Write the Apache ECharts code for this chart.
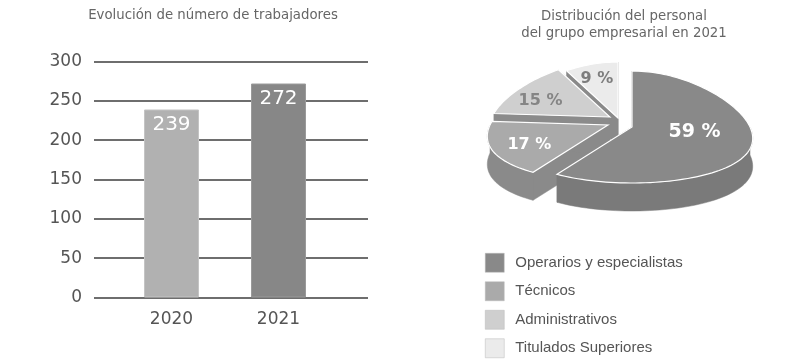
<!DOCTYPE html>
<html><head><meta charset="utf-8">
<script src="https://cdn.jsdelivr.net/npm/echarts@6/dist/echarts.min.js"></script>
<style>html,body{margin:0;padding:0;background:#fff}#c{width:800px;height:362px}</style>
</head><body><div id="c"></div>
<script>
// ---- data ----
const years = ['2020', '2021'];
const workers = [239, 272];
const yMin = 0, yMax = 300, yStep = 50;
const pieNames = ['Operarios y especialistas', 'Técnicos', 'Administrativos', 'Titulados Superiores'];
const pieShares = [59, 17, 15, 9];

// ---- styles ----
const barColors = ['#b1b1b1', '#878787'];
const barBorders = ['#c4c4c4', '#9a9a9a'];
const topColors = ['#898989', '#aaaaaa', '#cfcfcf', '#ebebeb'];
const sideColors = ['#7a7a7a', '#8a8a8a', '#8a8a8a', '#8d8d8d'];
const cutColors = ['#7e7e7e', '#8a8a8a', '#8b8b8b', '#8a8a8a'];
const labelColors = ['#ffffff', '#ffffff', '#858585', '#7d7d7d'];
const labelSizes = [19, 16, 16, 16];
const labelR = [0.52, 0.68, 0.77, 0.81];
const labelDy = [-3, 2.5, 6, 4.5];
const explodeOffsets = [[10, 3], [-14, 1], [-12, -7], [-4, -6]];
const drawZ = [5, 4, 3, 2];
const PIE = { cx: 622, cy: 124, rx: 118, ry: 56, depth: 28, persp: 0.22 };

const total = pieShares.reduce((a, b) => a + b, 0);
const starts = [];
let acc = 0;
pieShares.forEach(v => { starts.push(acc / total * 360); acc += v; });

function pt(c, th, r) {
  r = r === undefined ? 1 : r;
  const a = th * Math.PI / 180;
  const f = 1 - PIE.persp * Math.cos(a);
  return [c[0] + PIE.rx * f * r * Math.sin(a), c[1] - PIE.ry * r * Math.cos(a)];
}

function renderSlice(i) {
  return function (params, api) {
    const v = api.value(0);
    const s = starts[i], e = s + v / total * 360, m = (s + e) / 2;
    const c = [PIE.cx + explodeOffsets[i][0], PIE.cy + explodeOffsets[i][1]];
    const D = PIE.depth;
    const down = p => [p[0], p[1] + D];
    const arc = [];
    const n = Math.max(2, Math.ceil((e - s) / 2));
    for (let k = 0; k <= n; k++) arc.push(pt(c, s + (e - s) * k / n));
    const children = [];
    [arc[0], arc[arc.length - 1]].forEach(p => {
      children.push({ type: 'polygon', shape: { points: [c, p, down(p), down(c)] },
        style: { fill: cutColors[i], stroke: cutColors[i], lineWidth: 0.5 } });
    });
    const fs = Math.max(s, 90), fe = Math.min(e, 270);
    if (fe > fs) {
      const fr = [];
      const nn = Math.max(2, Math.ceil((fe - fs) / 2));
      for (let k = 0; k <= nn; k++) fr.push(pt(c, fs + (fe - fs) * k / nn));
      const poly = fr.concat(fr.slice().reverse().map(down));
      children.push({ type: 'polygon', shape: { points: poly },
        style: { fill: sideColors[i], stroke: sideColors[i], lineWidth: 0.5 } });
    }
    children.push({ type: 'polygon', shape: { points: [c].concat(arc) },
      style: { fill: topColors[i], stroke: '#ffffff', lineWidth: 1.2 } });
    const lp = pt(c, m, labelR[i]);
    children.push({ type: 'text', x: lp[0], y: lp[1] + labelDy[i],
      style: { text: v + ' %', fill: labelColors[i], fontFamily: 'DejaVu Sans', fontWeight: 'bold',
        fontSize: labelSizes[i], align: 'center', verticalAlign: 'middle' } });
    return { type: 'group', children: children };
  };
}

const chart = echarts.init(document.getElementById('c'), null, { renderer: 'canvas' });
const titleStyle = { fontFamily: 'DejaVu Sans', fontSize: 13.3, fontWeight: 'normal', color: '#666666', lineHeight: 17 };
chart.setOption({
  animation: false,
  backgroundColor: '#ffffff',
  title: [
    { text: 'Evolución de número de trabajadores', left: 213, top: 7, textAlign: 'center', padding: 0, textStyle: titleStyle },
    { text: 'Distribución del personal\ndel grupo empresarial en 2021', left: 624, top: 8, textAlign: 'center', padding: 0, textStyle: titleStyle }
  ],
  legend: {
    data: pieNames, orient: 'vertical', left: 485, top: 253, itemWidth: 19, itemHeight: 19, itemGap: 9,
    icon: 'rect', selectedMode: false, padding: 0,
    itemStyle: { borderColor: '#b8b8b8', borderWidth: 0.5 },
    textStyle: { fontFamily: 'Liberation Sans', fontSize: 15, color: '#555555', padding: [0, 0, 0, 6] }
  },
  grid: [
    { left: 118, width: 214, top: 61.5, bottom: 64.5 },
    { left: 94, width: 274, top: 61.5, bottom: 64.5 }
  ],
  xAxis: [
    { type: 'category', gridIndex: 0, data: years, axisLine: { show: false }, axisTick: { show: false },
      axisLabel: { fontFamily: 'DejaVu Sans', fontSize: 17, color: '#555555', margin: 14 } },
    { type: 'value', gridIndex: 1, show: false, min: 0, max: 1 }
  ],
  yAxis: [
    { type: 'value', gridIndex: 0, min: yMin, max: yMax, interval: yStep, show: false },
    { type: 'value', gridIndex: 1, min: yMin, max: yMax, interval: yStep,
      axisLine: { show: false }, axisTick: { show: false },
      splitLine: { lineStyle: { color: '#6e6e6e', width: 2 } },
      axisLabel: { fontFamily: 'DejaVu Sans', fontSize: 17, color: '#555555', margin: 12 } }
  ],
  series: [
    { type: 'bar', xAxisIndex: 0, yAxisIndex: 0, barWidth: 55,
      data: workers.map((v, i) => ({ value: v, itemStyle: { color: barColors[i], borderColor: barBorders[i], borderWidth: 1 } })),
      label: { show: true, position: 'insideTop', distance: 5, color: '#ffffff', fontFamily: 'DejaVu Sans', fontSize: 20 } }
  ].concat(pieNames.map((name, i) => ({
    type: 'custom', name: name, coordinateSystem: 'none', z: drawZ[i],
    itemStyle: { color: topColors[i] },
    renderItem: renderSlice(i),
    data: [[pieShares[i]]]
  })))
});
</script>
</body></html>
